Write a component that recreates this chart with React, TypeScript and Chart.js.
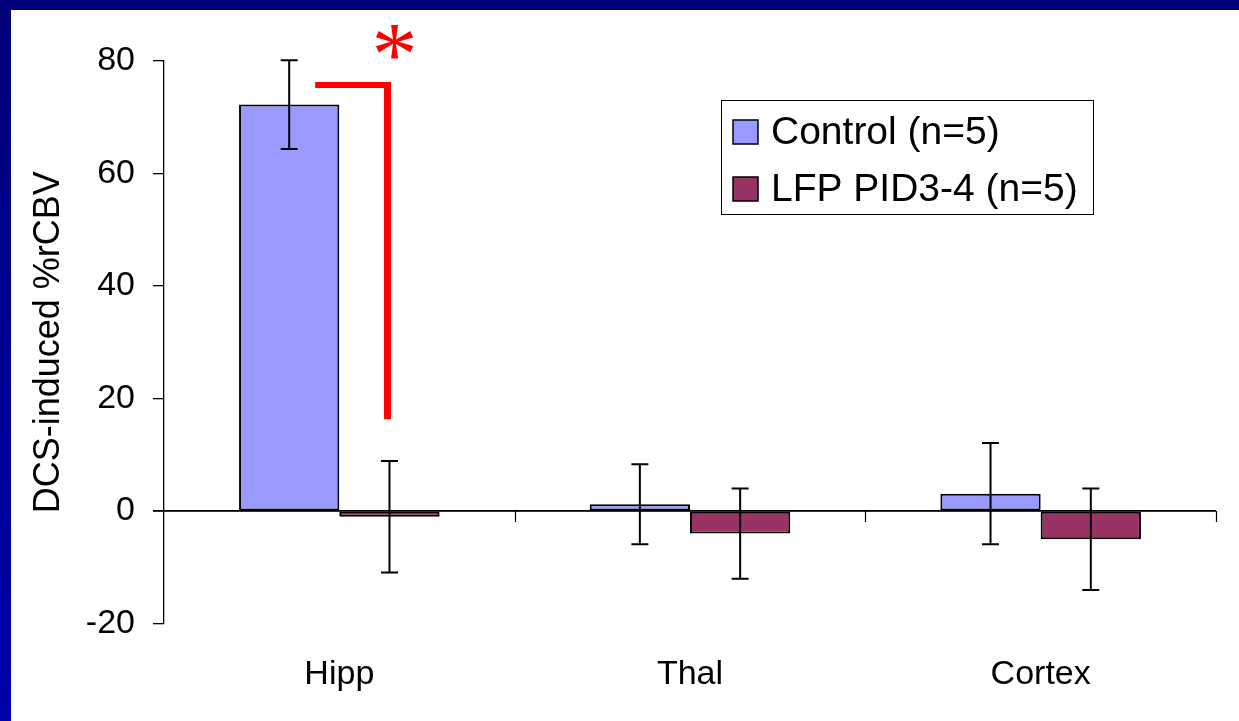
import React, { useEffect, useRef } from "react";
import { Chart, registerables } from "chart.js";

Chart.register(...registerables);

// ---- data ----
const categories = ["Hipp", "Thal", "Cortex"];
const seriesLabels = ["Control (n=5)", "LFP PID3-4 (n=5)"];
const controlMeans = [72.2, 1.2, 3.1];
const controlErrors = [7.9, 7.1, 9.0];
const lfpMeans = [-1.0, -4.0, -5.0];
const lfpErrors = [9.9, 8.0, 9.0];
const yMin = -20;
const yMax = 80;
const yStep = 20;
const yAxisTitle = "DCS-induced %rCBV";
const bracketTopValue = 75.7;
const bracketBottomValue = 16.3;
const asteriskValue = 83.3;

// ---- styles ----
const FONT = "'Liberation Sans', Arial, Helvetica, sans-serif";
const CONTROL_COLOR = "#9999FF";
const LFP_COLOR = "#993366";
const RED = "#FF0000";

const overlayPlugin = {
  id: "overlay",
  afterDatasetsDraw(chart: any) {
    const { ctx, chartArea, scales } = chart;
    const y = scales.y;
    const y0 = y.getPixelForValue(0);
    ctx.save();
    // zero line drawn over bars
    ctx.strokeStyle = "#000";
    ctx.lineWidth = 1.3;
    ctx.beginPath();
    ctx.moveTo(chartArea.left - 11, y0);
    ctx.lineTo(chartArea.right, y0);
    ctx.stroke();
    // category boundary ticks on the zero line
    const n = categories.length;
    ctx.beginPath();
    for (let i = 1; i <= n; i++) {
      const xx = Math.round(chartArea.left + ((chartArea.right - chartArea.left) * i) / n) + 0.5;
      ctx.moveTo(xx, y0);
      ctx.lineTo(xx, y0 + 11);
    }
    ctx.lineWidth = 1.2;
    ctx.stroke();
    // error bars
    const means = [controlMeans, lfpMeans];
    const errs = [controlErrors, lfpErrors];
    ctx.lineWidth = 2;
    chart.data.datasets.forEach((_ds: any, di: number) => {
      const meta = chart.getDatasetMeta(di);
      meta.data.forEach((bar: any, i: number) => {
        const top = y.getPixelForValue(means[di][i] + errs[di][i]);
        const bot = y.getPixelForValue(means[di][i] - errs[di][i]);
        const cx = bar.x;
        const cap = 8.5;
        ctx.beginPath();
        ctx.moveTo(cx, top);
        ctx.lineTo(cx, bot);
        ctx.moveTo(cx - cap, top);
        ctx.lineTo(cx + cap, top);
        ctx.moveTo(cx - cap, bot);
        ctx.lineTo(cx + cap, bot);
        ctx.stroke();
      });
    });
    ctx.restore();
  },
  afterDraw(chart: any) {
    const { ctx, scales } = chart;
    const y = scales.y;
    ctx.save();

    // legend box
    const bx = 710, by = 90, bw = 372, bh = 114;
    ctx.strokeStyle = "#000";
    ctx.lineWidth = 1;
    ctx.strokeRect(bx + 0.5, by + 0.5, bw, bh);
    const colors = [CONTROL_COLOR, LFP_COLOR];
    const rowY = [122, 179];
    ctx.font = `39px ${FONT}`;
    ctx.textBaseline = "middle";
    ctx.textAlign = "left";
    seriesLabels.forEach((label, i) => {
      const sy = rowY[i];
      ctx.fillStyle = colors[i];
      ctx.fillRect(722, sy - 12, 25, 24);
      ctx.lineWidth = 1.5;
      ctx.strokeStyle = "#000";
      ctx.strokeRect(722, sy - 12, 25, 24);
      ctx.fillStyle = "#000";
      ctx.fillText(label, 760, sy + 1);
    });

    // significance bracket between Hipp bars
    const m0 = chart.getDatasetMeta(0).data[0];
    const m1 = chart.getDatasetMeta(1).data[0];
    const yTop = y.getPixelForValue(bracketTopValue);
    const yBot = y.getPixelForValue(bracketBottomValue);
    const vx = m1.x - 2;
    const hx1 = m0.x + 26;
    ctx.strokeStyle = RED;
    ctx.lineCap = "butt";
    ctx.lineWidth = 6;
    ctx.beginPath();
    ctx.moveTo(hx1, yTop);
    ctx.lineTo(vx + 3.5, yTop);
    ctx.stroke();
    ctx.lineWidth = 7;
    ctx.beginPath();
    ctx.moveTo(vx, yTop - 3);
    ctx.lineTo(vx, yBot);
    ctx.stroke();

    // asterisk
    ctx.font = `92px 'Liberation Serif', 'Times New Roman', serif`;
    ctx.fillStyle = RED;
    ctx.textAlign = "center";
    ctx.textBaseline = "alphabetic";
    const mt = ctx.measureText("*");
    const ay = y.getPixelForValue(asteriskValue);
    const hAsc = mt.actualBoundingBoxAscent;
    const hDesc = mt.actualBoundingBoxDescent;
    ctx.fillText("*", vx + 7, ay + (hAsc - hDesc) / 2);

    ctx.restore();
  },
};

export default function App() {
  const canvasRef = useRef<HTMLCanvasElement | null>(null);

  useEffect(() => {
    if (!canvasRef.current) return;
    Chart.defaults.font.family = FONT;
    const chart = new Chart(canvasRef.current, {
      type: "bar",
      data: {
        labels: categories,
        datasets: [
          {
            label: seriesLabels[0],
            data: controlMeans,
            backgroundColor: CONTROL_COLOR,
            borderColor: "#000",
            borderWidth: 2,
            borderSkipped: false,
            categoryPercentage: 0.572,
            barPercentage: 1,
          },
          {
            label: seriesLabels[1],
            data: lfpMeans,
            backgroundColor: LFP_COLOR,
            borderColor: "#000",
            borderWidth: 2,
            borderSkipped: false,
            categoryPercentage: 0.572,
            barPercentage: 1,
          },
        ],
      },
      options: {
        responsive: false,
        maintainAspectRatio: false,
        animation: false,
        layout: { padding: { left: 0, right: 23, top: 50.7, bottom: 0 } },
        plugins: {
          legend: { display: false },
          tooltip: { enabled: false },
          title: { display: false },
        },
        scales: {
          x: {
            type: "category",
            position: "bottom",
            grid: { display: false, drawTicks: false },
            border: { display: false },
            ticks: {
              color: "#000",
              font: { size: 34, family: FONT },
              padding: 31,
            },
            afterFit: (s: any) => {
              s.height = 97.3;
            },
          },
          y: {
            min: yMin,
            max: yMax,
            ticks: {
              stepSize: yStep,
              color: "#000",
              font: { size: 34, family: FONT },
              padding: 18,
            },
            grid: {
              color: (c: any) => (c.tick && c.tick.value === 0 ? "#000" : "rgba(0,0,0,0)"),
              tickColor: "#000",
              tickLength: 11,
              lineWidth: 1.3,
            },
            border: { display: true, color: "#000", width: 1.3 },
            title: {
              display: true,
              text: yAxisTitle,
              color: "#000",
              font: { size: 36, family: FONT },
              padding: { top: 16, bottom: 0 },
            },
            afterFit: (s: any) => {
              s.width = 153;
            },
          },
        },
      },
      plugins: [overlayPlugin],
    });
    return () => chart.destroy();
  }, []);

  return (
    <div
      style={{
        position: "fixed",
        left: 0,
        top: 0,
        width: 1239,
        height: 721,
        background: "#fff",
        overflow: "hidden",
      }}
    >
      <div style={{ position: "absolute", left: 0, top: 0, width: 1239, height: 10, background: "#000078" }} />
      <div
        style={{
          position: "absolute",
          left: 0,
          top: 0,
          width: 11,
          height: 721,
          background: "linear-gradient(#000078, #0000AC)",
        }}
      />
      <div style={{ position: "absolute", left: 11, top: 10, width: 1228, height: 711 }}>
        <canvas ref={canvasRef} width={1228} height={711} style={{ display: "block" }} />
      </div>
    </div>
  );
}
